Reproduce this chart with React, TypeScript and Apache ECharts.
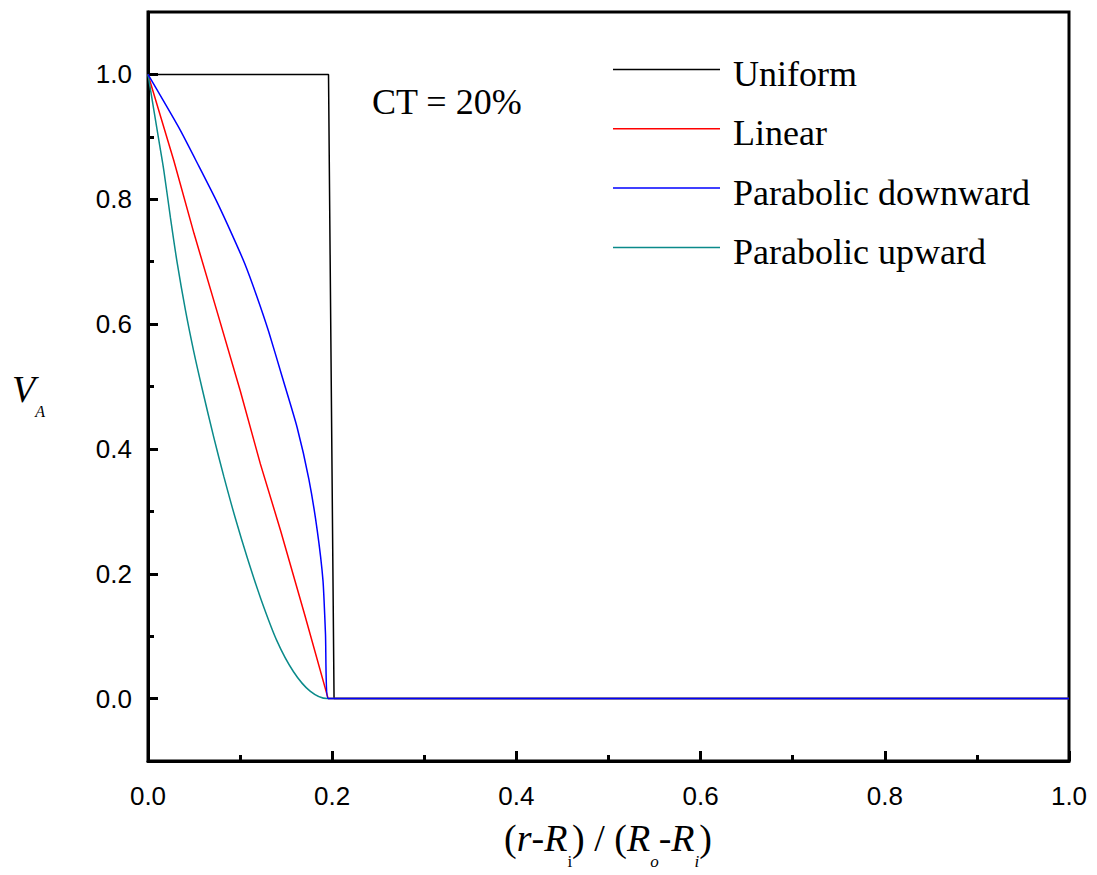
import React, { useEffect, useRef } from "react";
import * as echarts from "echarts";

const xTickLabels = ["0.0", "0.2", "0.4", "0.6", "0.8", "1.0"];
const yMajorValues = [0, 0.2, 0.4, 0.6, 0.8, 1.0];
const yMinorValues = [0.1, 0.3, 0.5, 0.7, 0.9];

const seriesNames = ["Uniform", "Linear", "Parabolic downward", "Parabolic upward"];

const uniformX = [0, 0.196, 0.202, 1];
const uniformV = [1, 1, 0, 0];

const linearX = [0, 0.028, 0.05, 0.075, 0.1, 0.122, 0.144, 0.17, 0.1956, 1];
const linearV = [1, 0.862, 0.745, 0.62, 0.494, 0.376, 0.269, 0.135, 0, 0];

const downX = [0, 0.0334, 0.0552, 0.0751, 0.0914, 0.105, 0.118, 0.131, 0.146, 0.162, 0.1746, 0.1837, 0.19, 0.1927, 0.1956, 1];
const downV = [1, 0.915, 0.853, 0.795, 0.743, 0.697, 0.645, 0.588, 0.514, 0.434, 0.352, 0.27, 0.189, 0.104, 0, 0];

const upX = [0, 0.0117, 0.0172, 0.0244, 0.0317, 0.0407, 0.0497, 0.0592, 0.0715, 0.0823, 0.095, 0.1077, 0.122, 0.14, 0.158, 0.176, 0.1946, 1];
const upV = [1, 0.895, 0.846, 0.77, 0.698, 0.622, 0.556, 0.494, 0.418, 0.356, 0.288, 0.226, 0.162, 0.0925, 0.043, 0.012, 0, 0];

const pair = (xs: number[], vs: number[]) => xs.map((x, i) => [x, vs[i]]);

const SERIF = '"Liberation Serif", "Times New Roman", serif';
const SANS = '"Liberation Sans", Arial, sans-serif';

export default function App() {
  const ref = useRef<HTMLDivElement>(null);
  useEffect(() => {
    if (!ref.current) return;
    const chart = echarts.init(ref.current, undefined, { renderer: "svg" });
    const lineSeries = (name: string, data: number[][], color: string, extra: any = {}) => ({
      name,
      type: "line",
      data,
      symbol: "none",
      lineStyle: { color, width: 1.5 },
      itemStyle: { color },
      ...extra,
    });
    chart.setOption({
      animation: false,
      backgroundColor: "#fff",
      grid: {
        left: 148,
        top: 12,
        width: 921,
        height: 749,
        show: true,
        borderColor: "#000",
        borderWidth: 3,
        backgroundColor: "transparent",
      },
      legend: {
        orient: "vertical",
        left: 613,
        top: 47,
        padding: 0,
        icon: "rect",
        itemWidth: 107,
        itemHeight: 1.5,
        itemGap: 14.3,
        data: seriesNames,
        formatter: (name: string) => `{n|${name}}`,
        textStyle: {
          fontFamily: SERIF,
          fontSize: 36,
          color: "#000",
          rich: {
            n: {
              fontFamily: SERIF,
              fontSize: 36,
              lineHeight: 40,
              color: "#000",
              padding: [9, 0, 0, 8],
            },
          },
        },
      },
      xAxis: {
        type: "value",
        min: 0,
        max: 1,
        interval: 0.2,
        axisLine: { show: true, onZero: false, lineStyle: { color: "#000", width: 3 } },
        axisTick: { show: true, inside: true, length: 10, lineStyle: { width: 3, color: "#000" } },
        minorTick: { show: true, splitNumber: 2, length: 6, lineStyle: { width: 3, color: "#000" } },
        splitLine: { show: false },
        axisLabel: {
          margin: 22,
          fontFamily: SANS,
          fontSize: 26,
          color: "#000",
          formatter: (v: number) => xTickLabels[Math.round(v / 0.2)] ?? "",
        },
      },
      yAxis: [
        {
          type: "value",
          min: -0.1,
          max: 1.1,
          axisLine: { show: true, onZero: false, lineStyle: { color: "#000", width: 3 } },
          axisTick: {
            show: true,
            inside: true,
            length: 10,
            customValues: yMajorValues,
            lineStyle: { width: 3, color: "#000" },
          },
          splitLine: { show: false },
          axisLabel: {
            margin: 16,
            fontFamily: SANS,
            fontSize: 26,
            color: "#000",
            customValues: yMajorValues,
            formatter: (v: number) => v.toFixed(1),
          },
        },
        {
          type: "value",
          min: -0.1,
          max: 1.1,
          position: "left",
          axisLine: { show: false, onZero: false },
          axisTick: {
            show: true,
            inside: true,
            length: 6,
            customValues: yMinorValues,
            lineStyle: { width: 3, color: "#000" },
          },
          splitLine: { show: false },
          axisLabel: { show: false },
        },
      ],
      series: [
        lineSeries("Uniform", pair(uniformX, uniformV), "#000000"),
        lineSeries("Linear", pair(linearX, linearV), "#ff0000"),
        lineSeries("Parabolic upward", pair(upX, upV), "#0a8a8a", { smooth: 0.3 }),
        lineSeries("Parabolic downward", pair(downX, downV), "#0000ff", { smooth: 0.2 }),
      ],
      graphic: [
        {
          type: "text",
          left: 372,
          top: 84,
          style: { text: "CT = 20%", font: `36px ${SERIF}`, fill: "#000" },
        },
        {
          type: "text",
          x: 12,
          y: 389,
          style: {
            text: "{v|V}{s|A}",
            fill: "#000",
            align: "left",
            verticalAlign: "middle",
            rich: {
              v: { fontFamily: SERIF, fontStyle: "italic", fontSize: 38, lineHeight: 38 },
              s: { fontFamily: SERIF, fontStyle: "italic", fontSize: 16, lineHeight: 16, padding: [45, 0, 0, 0] },
            },
          },
        },
        {
          type: "text",
          x: 608,
          y: 838,
          style: {
            text: "{m|(}{it|r}{m|-}{it|R}{s|i}{m|) / (}{it|R}{si|o}{m|-}{it|R}{si|i}{m|)}",
            fill: "#000",
            align: "center",
            verticalAlign: "middle",
            rich: {
              m: { fontFamily: SERIF, fontSize: 38, lineHeight: 38 },
              it: { fontFamily: SERIF, fontStyle: "italic", fontSize: 38, lineHeight: 38 },
              s: { fontFamily: SERIF, fontSize: 17, lineHeight: 17, padding: [46, 0, 0, 0] },
              si: { fontFamily: SERIF, fontStyle: "italic", fontSize: 17, lineHeight: 17, padding: [46, 0, 0, 0] },
            },
          },
        },
      ],
    });
    return () => chart.dispose();
  }, []);
  return (
    <div
      ref={ref}
      style={{ position: "fixed", left: 0, top: 0, width: 1097, height: 875, background: "#fff" }}
    />
  );
}
